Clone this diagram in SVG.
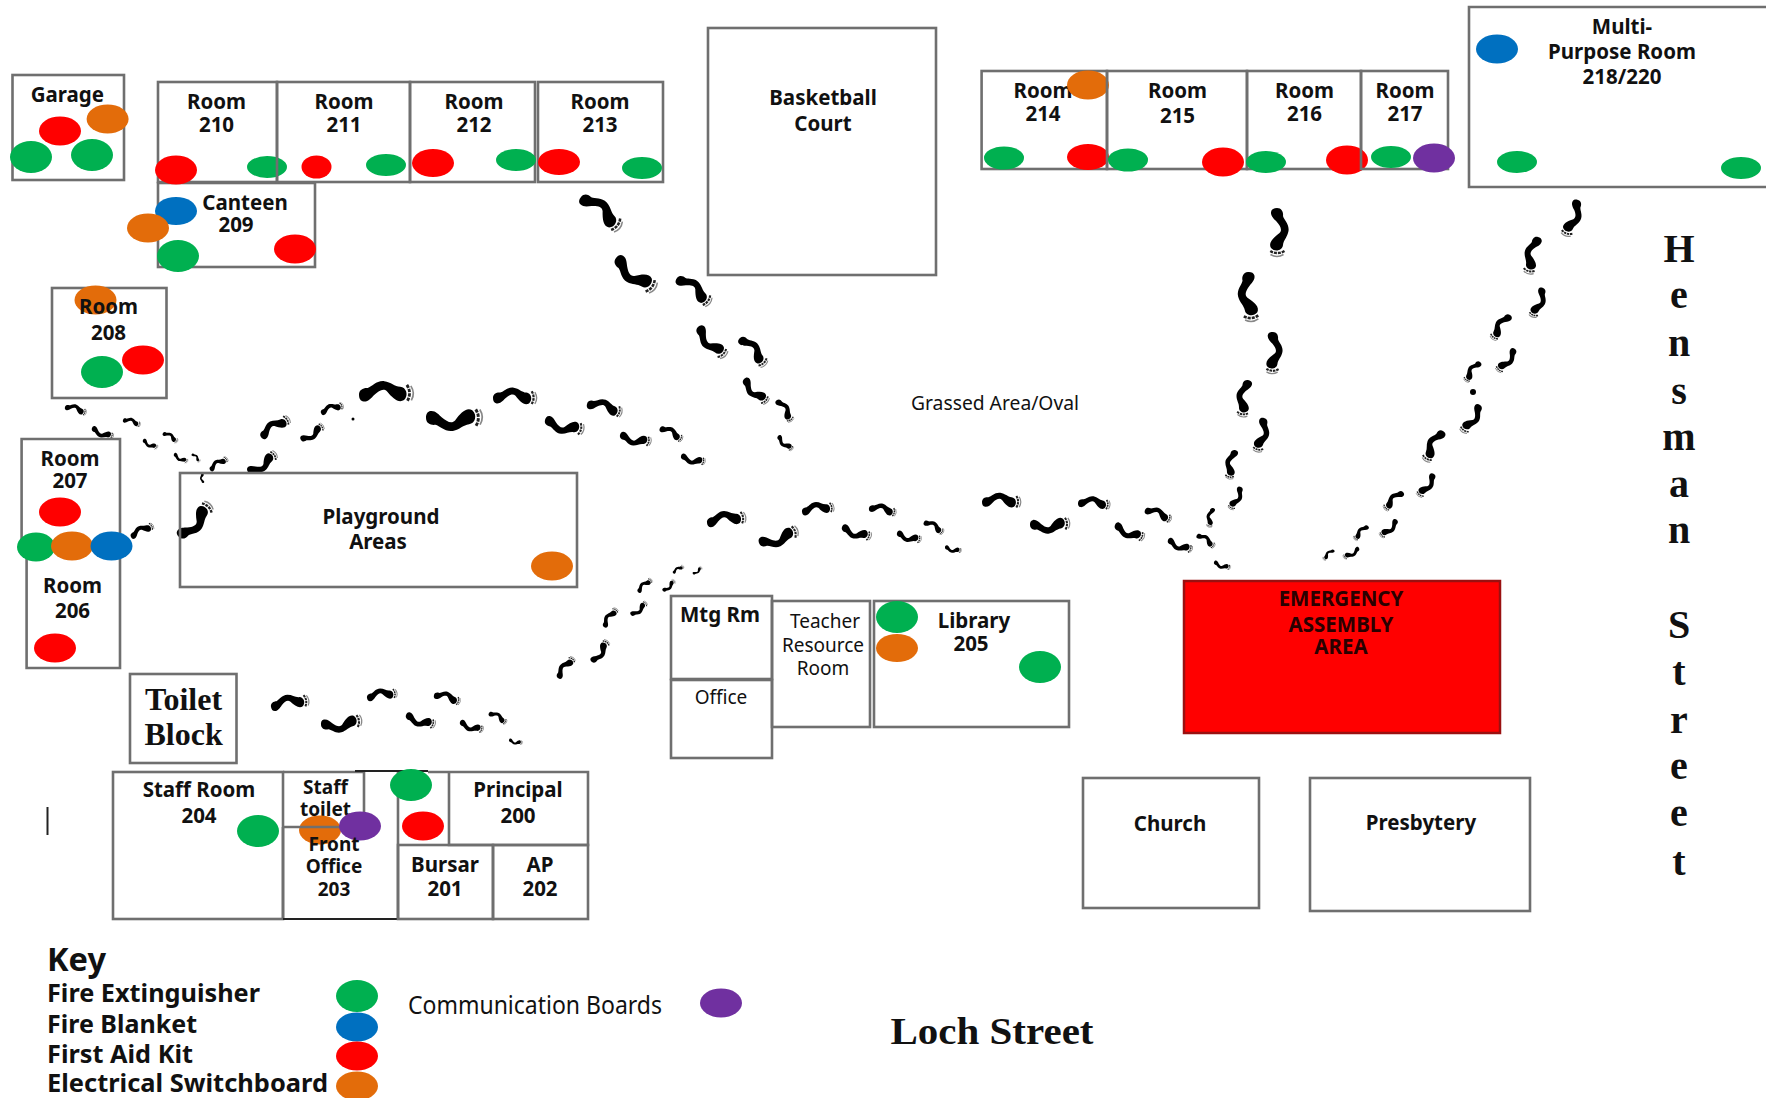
<svg xmlns="http://www.w3.org/2000/svg" xmlns:xlink="http://www.w3.org/1999/xlink" width="1766" height="1098" viewBox="0 0 1766 1098">
<style>
.r{fill:none;stroke:#6f6f6f;stroke-width:2.6}
.k{fill:none;stroke:#222;stroke-width:2}
.gr{fill:#00B050}.rd{fill:#FF0000}.bl{fill:#0070C0}.or{fill:#E36C0A}.pu{fill:#7030A0}
text{font-family:"Noto Sans","Liberation Sans",sans-serif;font-size:20.5px;font-weight:700;fill:#111;text-anchor:middle}
.n{font-weight:400;font-size:19px}
.s{font-family:"Liberation Serif",serif;font-weight:700}
.l{text-anchor:start;font-size:25px}
</style>
<defs>
<g id="foot">
<path fill="#000" d="M0,0C0,-10 9,-13 16,-12C24,-14 32,-25 46,-23C58,-21 64,-13 74,-12C85,-11 89,4 80,12C70,18 60,8 50,-5C44,-11 36,-7 27,1C22,6 16,13 8,12C2,11 0,6 0,0Z"/>
<path fill="none" stroke="#222" stroke-width="5" stroke-dasharray="6 2" d="M86,-15Q95,0 85,15"/>
<path fill="none" stroke="#888" stroke-width="3" d="M93,-13Q101,0 93,13"/>
</g>
</defs>
<rect width="1766" height="1098" fill="#fff"/>
<g id="footprints">
<use href="#foot" transform="matrix(.40 .32 -.32 .40 581 197)"/>
<use href="#foot" transform="matrix(.40 .32 .32 -.40 616 258)"/>
<use href="#foot" transform="matrix(.34 .26 -.26 .34 677 278)"/>
<use href="#foot" transform="matrix(.28 .30 .30 -.28 698 327)"/>
<use href="#foot" transform="matrix(.26 .28 -.28 .26 740 338)"/>
<use href="#foot" transform="matrix(.24 .24 .24 -.24 744 379)"/>
<use href="#foot" transform="matrix(.15 .22 -.22 .15 777 400)"/>
<use href="#foot" transform="matrix(.15 .14 .14 -.15 778 436)"/>
<use href="#foot" transform="matrix(.22 .06 -.06 .22 65 407)"/>
<use href="#foot" transform="matrix(.22 .09 .09 -.22 92 428)"/>
<use href="#foot" transform="matrix(.18 .05 -.05 .18 123 420)"/>
<use href="#foot" transform="matrix(.15 .08 .08 -.15 143 440)"/>
<use href="#foot" transform="matrix(.15 .09 -.09 .15 163 433)"/>
<use href="#foot" transform="matrix(.14 .08 .08 -.14 174 454)"/>
<use href="#foot" transform="matrix(.08 .08 -.08 .08 192 454)"/>
<use href="#foot" transform="matrix(-.01 -.11 .11 -.01 203 483)"/>
<use href="#foot" transform="matrix(.18 -.12 .12 .18 210 470)"/>
<use href="#foot" transform="matrix(.29 -.19 -.19 -.29 248 472)"/>
<use href="#foot" transform="matrix(.29 -.19 .19 .29 261 437)"/>
<use href="#foot" transform="matrix(.23 -.15 -.15 -.23 301 440)"/>
<use href="#foot" transform="matrix(.23 -.08 .08 .23 321 413)"/>
<circle cx="353" cy="419" r="1.5"/>
<use href="#foot" transform="matrix(.56 -.02 .02 .56 359 395)"/>
<use href="#foot" transform="matrix(.58 -.01 -.01 -.58 426 418)"/>
<use href="#foot" transform="matrix(.45 0 0 .45 493 398)"/>
<use href="#foot" transform="matrix(.40 .10 .10 -.40 545 420)"/>
<use href="#foot" transform="matrix(.36 .09 -.09 .36 587 404)"/>
<use href="#foot" transform="matrix(.32 .07 .07 -.32 620 435)"/>
<use href="#foot" transform="matrix(.23 .12 -.12 .23 660 428)"/>
<use href="#foot" transform="matrix(.25 .06 .06 -.25 681 456)"/>
<use href="#foot" transform="matrix(.23 -.12 .12 .23 131 537)"/>
<use href="#foot" transform="matrix(.32 -.34 -.34 -.32 179 537)"/>
<use href="#foot" transform="matrix(.39 -.07 .07 .39 271 707)"/>
<use href="#foot" transform="matrix(.42 -.05 -.05 -.42 321 725)"/>
<use href="#foot" transform="matrix(.31 -.05 .05 .31 367 698)"/>
<use href="#foot" transform="matrix(.30 .10 .10 -.30 406 715)"/>
<use href="#foot" transform="matrix(.27 .07 -.07 .27 434 695)"/>
<use href="#foot" transform="matrix(.24 .08 .08 -.24 460 722)"/>
<use href="#foot" transform="matrix(.18 .10 -.10 .18 489 713)"/>
<use href="#foot" transform="matrix(.14 .03 .03 -.14 509 740)"/>
<use href="#foot" transform="matrix(.16 -.21 .21 .16 558 678)"/>
<use href="#foot" transform="matrix(.16 -.22 -.22 -.16 592 662)"/>
<use href="#foot" transform="matrix(.13 -.19 .19 .13 604 627)"/>
<use href="#foot" transform="matrix(.16 -.13 -.13 -.16 631 615)"/>
<use href="#foot" transform="matrix(.14 -.13 .13 .14 638 592)"/>
<use href="#foot" transform="matrix(.12 -.11 -.11 -.12 663 591)"/>
<use href="#foot" transform="matrix(.11 -.07 .07 .11 673 573)"/>
<use href="#foot" transform="matrix(.09 -.07 -.07 -.09 693 574)"/>
<use href="#foot" transform="matrix(.40 -.06 .06 .40 707 523)"/>
<use href="#foot" transform="matrix(.40 -.13 -.13 -.40 759 543)"/>
<use href="#foot" transform="matrix(.33 -.05 .05 .33 802 512)"/>
<use href="#foot" transform="matrix(.30 .10 .10 -.30 842 527)"/>
<use href="#foot" transform="matrix(.28 .05 -.05 .28 869 508)"/>
<use href="#foot" transform="matrix(.25 .07 .07 -.25 897 533)"/>
<use href="#foot" transform="matrix(.20 .11 -.11 .20 924 522)"/>
<use href="#foot" transform="matrix(.17 .04 .04 -.17 945 547)"/>
<use href="#foot" transform="matrix(.40 0 0 .40 982 502)"/>
<use href="#foot" transform="matrix(.41 -.02 -.02 -.41 1030 525)"/>
<use href="#foot" transform="matrix(.33 .02 -.02 .33 1078 503)"/>
<use href="#foot" transform="matrix(.30 .13 .13 -.30 1115 525)"/>
<use href="#foot" transform="matrix(.27 .10 -.10 .27 1145 510)"/>
<use href="#foot" transform="matrix(.25 .10 .10 -.25 1168 540)"/>
<use href="#foot" transform="matrix(.18 .12 -.12 .18 1197 535)"/>
<use href="#foot" transform="matrix(.17 .06 .06 -.17 1214 562)"/>
<use href="#foot" transform="matrix(0 .50 -.50 0 1277 208)"/>
<use href="#foot" transform="matrix(.04 .51 .51 -.04 1248 272)"/>
<use href="#foot" transform="matrix(-.01 .43 -.43 -.01 1273 332)"/>
<use href="#foot" transform="matrix(-.06 .38 .38 .06 1248 380)"/>
<use href="#foot" transform="matrix(-.07 .35 -.35 -.07 1264 418)"/>
<use href="#foot" transform="matrix(-.06 .30 .30 .06 1235 450)"/>
<use href="#foot" transform="matrix(-.11 .23 -.23 -.11 1241 487)"/>
<use href="#foot" transform="matrix(-.04 .20 .20 .04 1213 508)"/>
<use href="#foot" transform="matrix(-.13 .37 -.37 -.13 1578 200)"/>
<use href="#foot" transform="matrix(-.10 .38 .38 .10 1538 237)"/>
<use href="#foot" transform="matrix(-.11 .30 -.30 -.11 1543 288)"/>
<use href="#foot" transform="matrix(-.18 .25 .25 .18 1510 315)"/>
<use href="#foot" transform="matrix(-.18 .23 -.23 -.18 1515 349)"/>
<use href="#foot" transform="matrix(-.15 .20 .20 .15 1480 362)"/>
<circle cx="1473" cy="392" r="3"/>
<use href="#foot" transform="matrix(-.18 .28 -.28 -.18 1480 405)"/>
<use href="#foot" transform="matrix(-.18 .31 .31 .18 1443 431)"/>
<use href="#foot" transform="matrix(-.16 .23 -.23 -.16 1434 474)"/>
<use href="#foot" transform="matrix(-.19 .18 .18 .19 1403 492)"/>
<use href="#foot" transform="matrix(-.17 .17 -.17 -.17 1397 520)"/>
<use href="#foot" transform="matrix(-.14 .14 .14 .14 1368 526)"/>
<use href="#foot" transform="matrix(-.16 .10 -.10 -.16 1359 548)"/>
<use href="#foot" transform="matrix(-.11 .10 .10 .11 1334 550)"/>
</g>
<g id="garage"><rect class="r" x="12.5" y="75" width="111.5" height="105"/><ellipse class="or" cx="107.6" cy="119" rx="21" ry="14.5"/><ellipse class="rd" cx="60" cy="131" rx="21" ry="14.5"/><ellipse class="gr" cx="31" cy="157" rx="21" ry="16"/><ellipse class="gr" cx="92" cy="155" rx="21" ry="16"/><text x="67.4" y="102">Garage</text></g>
<g id="canteen"><rect class="r" x="158" y="183" width="157" height="84"/><ellipse class="bl" cx="176" cy="211" rx="21" ry="14"/><ellipse class="or" cx="148" cy="228" rx="21" ry="14.5"/><ellipse class="gr" cx="178" cy="256" rx="21" ry="16"/><ellipse class="rd" cx="295" cy="249" rx="21" ry="14.5"/><text x="245" y="210">Canteen</text><text x="236" y="232">209</text></g>
<g id="room210"><rect class="r" x="158" y="82" width="119" height="100"/><ellipse class="rd" cx="176" cy="170" rx="21" ry="14.5"/><ellipse class="gr" cx="267" cy="167" rx="20" ry="11"/><text x="216.5" y="109">Room</text><text x="216.5" y="132">210</text></g>
<g id="room211"><rect class="r" x="277" y="82" width="133" height="100"/><ellipse class="rd" cx="316.500" cy="167" rx="15" ry="11.500"/><ellipse class="gr" cx="386" cy="165" rx="20" ry="11"/><text x="344" y="109">Room</text><text x="344" y="132">211</text></g>
<g id="room212"><rect class="r" x="410" y="82" width="125" height="100"/><ellipse class="rd" cx="433" cy="163" rx="21" ry="14"/><ellipse class="gr" cx="516" cy="160" rx="20" ry="11"/><text x="474" y="109">Room</text><text x="474" y="132">212</text></g>
<g id="room213"><rect class="r" x="538" y="82" width="125" height="100"/><ellipse class="rd" cx="559" cy="162" rx="21" ry="13"/><ellipse class="gr" cx="642" cy="168" rx="20" ry="11"/><text x="600" y="109">Room</text><text x="600" y="132">213</text></g>
<g id="room208"><rect class="r" x="52" y="288" width="114.500" height="110"/><ellipse class="or" cx="95.500" cy="300" rx="21" ry="14.500"/><ellipse class="rd" cx="143" cy="360" rx="21" ry="14.500"/><ellipse class="gr" cx="102" cy="372" rx="21" ry="16"/><text x="108.500" y="314">Room</text><text x="108.500" y="340">208</text></g>
<g id="room207"><path class="r" d="M21.600 540V439H120V546"/><ellipse class="rd" cx="60" cy="512" rx="21" ry="14.500"/><text x="70" y="466">Room</text><text x="70" y="488">207</text></g>
<g id="room206"><path class="r" d="M26.600 546V668H120V546"/><ellipse class="rd" cx="55" cy="648" rx="21" ry="14.500"/><text x="72.500" y="593">Room</text><text x="72.500" y="618">206</text></g>
<g id="room-markers"><ellipse class="gr" cx="36" cy="547" rx="19" ry="14.500"/><ellipse class="or" cx="72" cy="546" rx="21" ry="14.500"/><ellipse class="bl" cx="111.500" cy="546" rx="21" ry="14.500"/></g>
<g id="playground"><rect class="r" x="180" y="473" width="397" height="114"/><ellipse class="or" cx="552" cy="566" rx="21" ry="14.500"/><text x="381" y="524">Playground</text><text x="378" y="549">Areas</text></g>
<g id="toilet-block"><rect class="r" x="130" y="674" width="106.500" height="89"/><text class="s" style="font-size:32px" x="183.600" y="710">Toilet</text><text class="s" style="font-size:32px" x="183.600" y="745">Block</text></g>
<g id="staff-room"><rect class="r" x="113" y="772" width="170" height="147"/><ellipse class="gr" cx="258" cy="831" rx="21" ry="16"/><text x="199" y="797">Staff Room</text><text x="199" y="823">204</text></g>
<g id="staff-toilet"><text style="font-size:19px" x="325.500" y="794">Staff</text><text style="font-size:19px" x="325.500" y="816">toilet</text><ellipse class="or" cx="320" cy="830" rx="21" ry="14.500"/><path class="r" d="M283 772H364V827H283"/></g>
<g id="front-office"><path class="r" d="M283 827V919M398 772V919"/><path class="k" d="M283 919H403M355 771H428"/><ellipse class="pu" cx="360" cy="826" rx="21" ry="14.500"/><ellipse class="gr" cx="411" cy="785" rx="21" ry="16"/><ellipse class="rd" cx="423" cy="826" rx="21" ry="14.500"/><text style="font-size:19px" x="334" y="851">Front</text><text style="font-size:19px" x="334" y="873">Office</text><text style="font-size:19px" x="334" y="896">203</text></g>
<g id="principal"><path class="r" d="M428 772H588V845H449V772"/><text x="518" y="797">Principal</text><text x="518" y="823">200</text></g>
<g id="bursar"><rect class="r" x="398" y="845" width="95" height="74"/><text x="445" y="872">Bursar</text><text x="445" y="896">201</text></g>
<g id="ap"><rect class="r" x="493" y="845" width="95" height="74"/><text x="540" y="872">AP</text><text x="540" y="896">202</text></g>
<path id="tick" d="M47.500 807V835" stroke="#222" stroke-width="2" fill="none"/>
<g id="basketball"><rect class="r" x="708" y="28" width="228" height="247"/><text x="823" y="105">Basketball</text><text x="823" y="131">Court</text></g>
<g id="room214"><text x="1043" y="98">Room</text><text x="1043" y="121">214</text><rect class="r" x="981.600" y="71" width="125.400" height="98"/><ellipse class="or" cx="1088" cy="85" rx="21" ry="14.500"/><ellipse class="gr" cx="1004" cy="158" rx="20" ry="11.500"/><ellipse class="rd" cx="1088" cy="157" rx="21" ry="13"/></g>
<g id="room215"><rect class="r" x="1107" y="71" width="140" height="98"/><ellipse class="gr" cx="1128" cy="160" rx="20" ry="11.500"/><ellipse class="rd" cx="1223" cy="162" rx="21" ry="14.500"/><text x="1177.500" y="98">Room</text><text x="1177.500" y="123">215</text></g>
<g id="room216"><rect class="r" x="1247" y="71" width="114" height="98"/><ellipse class="gr" cx="1266" cy="162" rx="20" ry="11"/><ellipse class="rd" cx="1347" cy="160" rx="21" ry="14.500"/><text x="1304.500" y="98">Room</text><text x="1304.500" y="121">216</text></g>
<g id="room217"><rect class="r" x="1361" y="71" width="87" height="98"/><ellipse class="gr" cx="1391" cy="157" rx="20" ry="11"/><ellipse class="pu" cx="1434" cy="158" rx="21" ry="14.500"/><text x="1405" y="98">Room</text><text x="1405" y="121">217</text></g>
<g id="multipurpose"><path class="r" d="M1766 7H1469V187H1766"/><ellipse class="bl" cx="1497" cy="49" rx="21" ry="14.500"/><ellipse class="gr" cx="1517" cy="162" rx="20" ry="11"/><ellipse class="gr" cx="1741" cy="168" rx="20" ry="11"/><text x="1622" y="34">Multi-</text><text x="1622" y="59">Purpose Room</text><text x="1622" y="84">218/220</text></g>
<g id="mtg-room"><rect class="r" x="671" y="596" width="101" height="83"/><text x="720" y="622">Mtg Rm</text></g>
<g id="office"><rect class="r" x="671" y="680" width="101" height="78"/><text class="n" x="721" y="704">Office</text></g>
<g id="teacher-resource"><rect class="r" x="772" y="601" width="98" height="126"/><text class="n" x="825" y="628">Teacher</text><text class="n" x="823" y="652">Resource</text><text class="n" x="823" y="675">Room</text></g>
<g id="library"><rect class="r" x="874" y="601" width="195" height="126"/><ellipse class="gr" cx="897" cy="617" rx="21" ry="16"/><ellipse class="or" cx="897" cy="648" rx="21" ry="14"/><ellipse class="gr" cx="1040" cy="667" rx="21" ry="16"/><text x="974" y="628">Library</text><text x="971" y="651">205</text></g>
<g id="assembly"><rect x="1184" y="581" width="316" height="152" fill="#FF0000" stroke="#9a1010" stroke-width="2.500"/><text style="fill:#2a0000" x="1341" y="606">EMERGENCY</text><text style="fill:#2a0000" x="1341" y="632">ASSEMBLY</text><text style="fill:#2a0000" x="1341" y="654">AREA</text></g>
<g id="church"><rect class="r" x="1083" y="778" width="176" height="130"/><text x="1170" y="831">Church</text></g>
<g id="presbytery"><rect class="r" x="1310" y="778" width="220" height="133"/><text x="1421" y="830">Presbytery</text></g>
<g id="labels">
<text class="n" x="995" y="410" textLength="168" lengthAdjust="spacingAndGlyphs">Grassed Area/Oval</text>
<text class="s" style="font-size:38px" x="992" y="1044" textLength="203" lengthAdjust="spacingAndGlyphs">Loch Street</text>
<text class="s" style="font-size:40px" x="1679" y="262"><tspan x="1679" y="262">H</tspan><tspan x="1679" y="308">e</tspan><tspan x="1679" y="356">n</tspan><tspan x="1679" y="404">s</tspan><tspan x="1679" y="450">m</tspan><tspan x="1679" y="497">a</tspan><tspan x="1679" y="543">n</tspan></text>
<text class="s" style="font-size:40px" x="1679" y="638"><tspan x="1679" y="638">S</tspan><tspan x="1679" y="685">t</tspan><tspan x="1679" y="733">r</tspan><tspan x="1679" y="779">e</tspan><tspan x="1679" y="826">e</tspan><tspan x="1679" y="875">t</tspan></text>
</g>
<g id="key">
<text class="l" style="font-size:33px" x="47" y="971" textLength="59" lengthAdjust="spacingAndGlyphs">Key</text>
<text class="l" x="47" y="1002" textLength="213" lengthAdjust="spacingAndGlyphs">Fire Extinguisher</text>
<text class="l" x="47" y="1033" textLength="150" lengthAdjust="spacingAndGlyphs">Fire Blanket</text>
<text class="l" x="47" y="1063" textLength="146" lengthAdjust="spacingAndGlyphs">First Aid Kit</text>
<text class="l" x="47" y="1092" textLength="281" lengthAdjust="spacingAndGlyphs">Electrical Switchboard</text>
<text class="l" style="font-weight:400" x="408" y="1014" textLength="254" lengthAdjust="spacingAndGlyphs">Communication Boards</text>
<ellipse class="gr" cx="357" cy="996" rx="21" ry="16"/>
<ellipse class="bl" cx="357" cy="1027" rx="21" ry="14.500"/>
<ellipse class="rd" cx="357" cy="1056" rx="21" ry="14.500"/>
<ellipse class="or" cx="357" cy="1086" rx="21" ry="14.500"/>
<ellipse class="pu" cx="721" cy="1003" rx="21" ry="14.500"/>
</g>
</svg>
